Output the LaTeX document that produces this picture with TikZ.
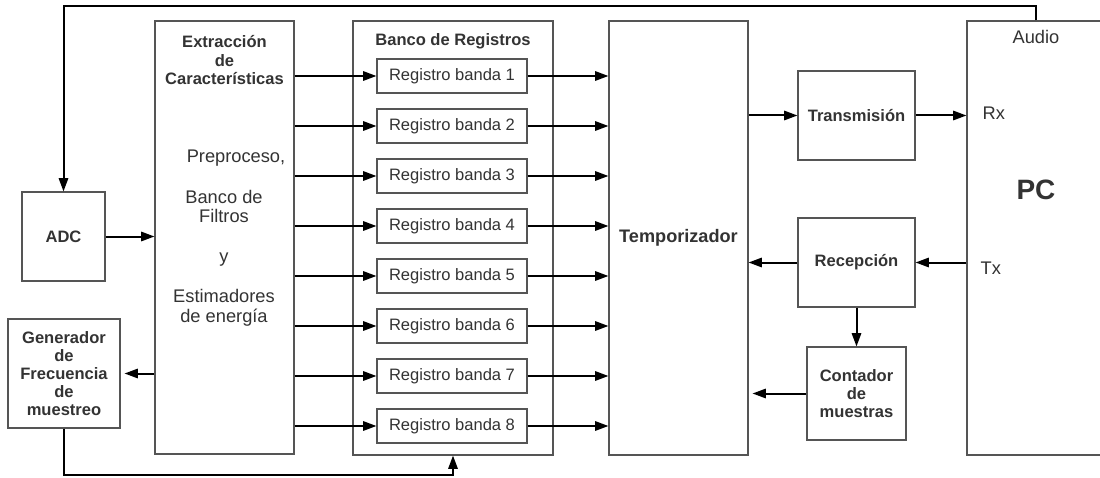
\documentclass[tikz,border=0pt]{standalone}
\usepackage{fontspec}
\setmainfont{Liberation Sans}
\usepackage{xcolor}
\usetikzlibrary{arrows.meta,positioning,calc}

\definecolor{txtgray}{HTML}{333333}
\definecolor{boxgray}{HTML}{555555}

\begin{document}
\begin{tikzpicture}[x=0.75pt,y=-0.75pt,
    blk/.style={draw=boxgray, line width=0.8pt, rectangle, fill=white, inner sep=0pt},
    lbl/.style={font=\bfseries\fontsize{12.4pt}{13.6pt}\selectfont, text=txtgray, align=center},
    txt/.style={font=\fontsize{13.7pt}{14.3pt}\selectfont, text=txtgray, align=center},
    regfont/.style={font=\fontsize{12.4pt}{14pt}\selectfont, text=txtgray},
    arr/.style={-{Triangle[length=10pt,width=7pt]}, line width=1.5pt}]
				\useasboundingbox (0,0) rectangle (1100,478);
				
				\node[blk, minimum width=83*0.75pt, minimum height=89*0.75pt, lbl] (adc) at (63.5,236.5) {ADC};
				\node[blk, minimum width=139*0.75pt, minimum height=433*0.75pt] (ext) at (224.5,237.5) {};
				\node[lbl, below=8pt of ext.north] (exttitle) {Extracción\\de\\Características};
				\node[txt] (extbody) at (224,238) {\hspace*{18pt}Preproceso,\\[16pt]Banco de\\Filtros\\[16pt]y\\[16pt]Estimadores\\de energía};
				\node[blk, minimum width=112*0.75pt, minimum height=109*0.75pt, lbl] (gen) at (64,373.5) {Generador\\de\\Frecuencia\\de\\muestreo};
				
				\node[blk, minimum width=200*0.75pt, minimum height=434*0.75pt] (bank) at (453,238) {};
				\node[lbl] (banktitle) at (453,41) {Banco de Registros};
				\foreach \i in {1,...,8}
					\node[blk, minimum width=150*0.75pt, minimum height=34*0.75pt, regfont] (reg\i) at (452,26+50*\i) {Registro banda \i};
				
				\node[blk, minimum width=139*0.75pt, minimum height=434*0.75pt] (temp) at (678.5,238) {};
				\node[lbl, font=\bfseries\fontsize{13.6pt}{15pt}\selectfont] (templbl) at (678.5,238) {Temporizador};
				
				\node[blk, minimum width=117*0.75pt, minimum height=89*0.75pt, lbl] (trans) at (856.5,115.5) {Transmisión};
				\node[blk, minimum width=117*0.75pt, minimum height=89*0.75pt, lbl] (recep) at (856.5,262.5) {Recepción};
				\node[blk, minimum width=99*0.75pt, minimum height=93*0.75pt, lbl] (cnt) at (856.5,393.5) {Contador\\de\\muestras};
				
				\node[blk, minimum width=200*0.75pt, minimum height=434*0.75pt] (pc) at (1067,238) {};
				\node[lbl, font=\bfseries\fontsize{21pt}{24pt}\selectfont] (pclbl) at (1036,190) {PC};
				\node[txt] (audio) at (1036,37) {Audio};
				\node[txt, anchor=west] (rxlbl) at (978,113) {Rx};
				\node[txt, anchor=west] (txlbl) at (976,268) {Tx};
				
				\draw[arr] (audio.north |- pc.north) -- ++(0,-14) -| (adc.north);
				\draw[arr] (adc.east) -- (ext.west |- adc.east);
				\draw[arr, shorten >=3pt] (ext.west |- gen.east) -- (gen.east);
				\draw[arr] (gen.south) -- ++(0,46) -| (bank.south);
				\foreach \i in {1,...,8} {
					\draw[arr] (ext.east |- reg\i.west) -- (reg\i.west);
					\draw[arr] (reg\i.east) -- (temp.west |- reg\i.east);
				}
				\draw[arr] (temp.east |- trans.west) -- (trans.west);
				\draw[arr] (trans.east) -- (pc.west |- trans.east);
				\draw[arr] (pc.west |- recep.east) -- (recep.east);
				\draw[arr] (recep.west) -- (temp.east |- recep.west);
				\draw[arr] (recep.south) -- (cnt.north);
				\draw[arr, shorten >=3pt] (cnt.west) -- (temp.east |- cnt.west);
			\end{tikzpicture}
\end{document}
